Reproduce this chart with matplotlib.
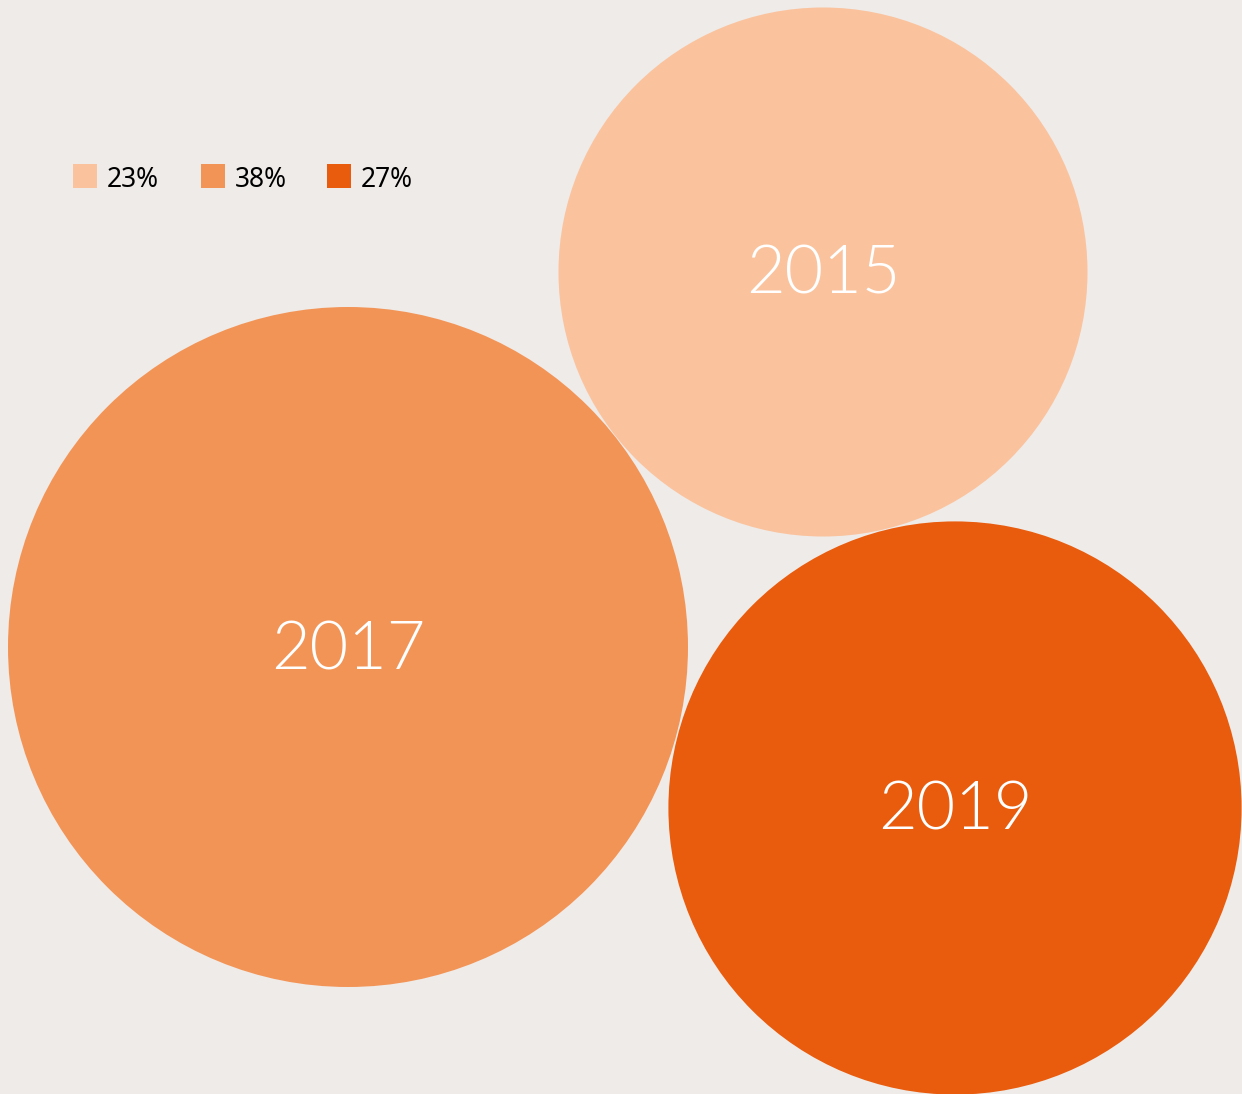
import numpy as np
import matplotlib

matplotlib.use("Agg")
import matplotlib.pyplot as plt
from matplotlib.patches import Circle, Rectangle
from matplotlib import font_manager as fm

years = ["2015", "2017", "2019"]
shares = [23, 38, 27]
colors = ["#FAC39E", "#F39457", "#E95C0D"]
BG = "#EFEBE8"

# layout (pixels)
centers = [(823, 272), (348, 647), (955, 808)]
scale = 340 / np.sqrt(38)

# pick a light (300) face for the year labels
light_fp = None
for fam in ["Lato", "Roboto", "Open Sans", "Inter"]:
    cands = [f for f in fm.fontManager.ttflist
             if f.name == fam and f.style == "normal" and f.weight in (300, "light")]
    if cands:
        light_fp = fm.FontProperties(fname=cands[0].fname, size=48)
        break
if light_fp is None:
    light_fp = fm.FontProperties(family="DejaVu Sans", weight="light", size=48)

fig = plt.figure(figsize=(12.42, 10.94), dpi=100, facecolor=BG)
ax = fig.add_axes([0, 0, 1, 1])
ax.set_facecolor(BG)
ax.set_xlim(0, 1242)
ax.set_ylim(1094, 0)
ax.set_aspect("equal")
ax.axis("off")

for yr, v, c, (cx, cy) in zip(years, shares, colors, centers):
    r = scale * np.sqrt(v)
    ax.add_patch(Circle((cx, cy), r, facecolor=c, edgecolor="none"))
    ax.text(cx, cy + 4, yr, color="white", fontproperties=light_fp,
            ha="center", va="center")

# legend
leg_x = [73, 201, 327]
for v, c, x in zip(shares, colors, leg_x):
    ax.add_patch(Rectangle((x, 164), 24, 24, facecolor=c, edgecolor="none"))
    ax.text(x + 34, 180, f"{v}%", fontsize=19, fontfamily="Noto Sans",
            color="black", ha="left", va="center")

fig.savefig("out.png", dpi=100, facecolor=BG)
